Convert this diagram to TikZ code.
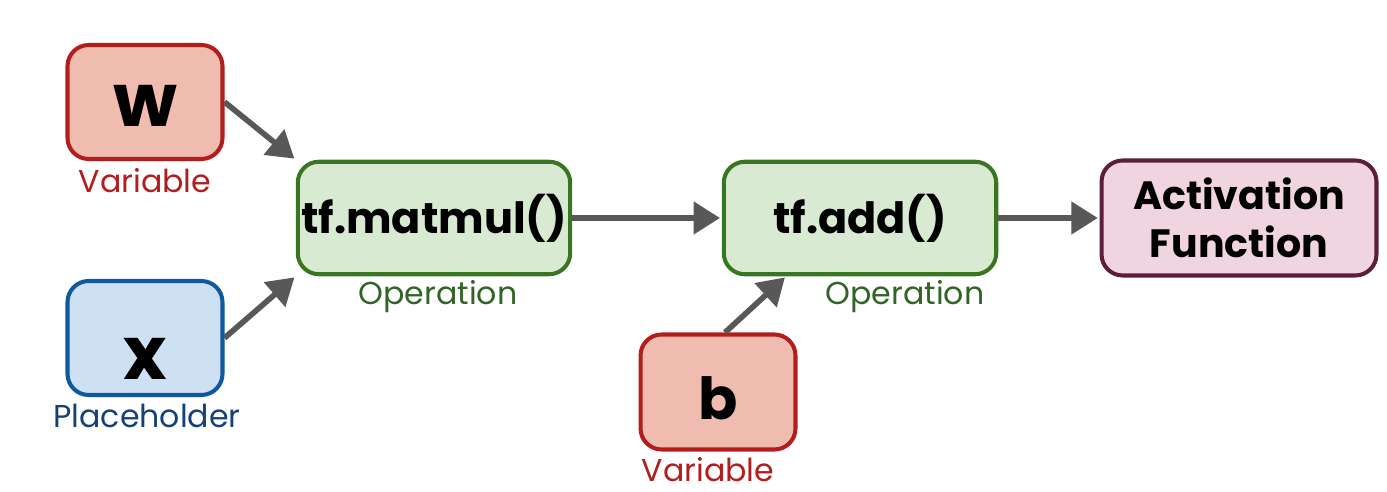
\documentclass[tikz,border=0pt]{standalone}
\usepackage{fontspec}
\setmainfont{Poppins}
\usetikzlibrary{arrows.meta,calc}
\definecolor{varfill}{RGB}{241,188,176}
\definecolor{vardraw}{RGB}{178,30,30}
\definecolor{phfill}{RGB}{206,225,243}
\definecolor{phdraw}{RGB}{18,88,160}
\definecolor{phtext}{RGB}{20,66,120}
\definecolor{opfill}{RGB}{217,234,211}
\definecolor{opdraw}{RGB}{56,118,34}
\definecolor{optext}{RGB}{50,100,40}
\definecolor{actfill}{RGB}{240,212,223}
\definecolor{actdraw}{RGB}{92,30,58}
\definecolor{arrcol}{RGB}{88,88,88}
\tikzset{
  box/.style={rounded corners=12pt, line width=2.3pt, font=\bfseries, align=center, inner sep=0pt},
  vbox/.style={box, fill=varfill, draw=vardraw, minimum width=3.1cm, minimum height=2.28cm, font=\bfseries\fontsize{42}{44}\selectfont},
  pbox/.style={box, fill=phfill, draw=phdraw, minimum width=3.1cm, minimum height=2.28cm, font=\bfseries\fontsize{42}{44}\selectfont},
  obox/.style={box, fill=opfill, draw=opdraw, minimum width=5.45cm, minimum height=2.25cm, font=\bfseries\fontsize{24.5}{28}\selectfont},
  abox/.style={box, fill=actfill, draw=actdraw, minimum width=5.5cm, minimum height=2.3cm, font=\bfseries\fontsize{22.5}{27}\selectfont},
  lab/.style={font=\fontsize{18}{21}\selectfont, inner sep=0pt},
  arr/.style={draw=arrcol, line width=3.2pt, -{Triangle[length=15pt,width=18pt]}, shorten >=1pt}
}
\begin{document}
\begin{tikzpicture}[x=0.02cm,y=-0.02cm]
\useasboundingbox (0,0) rectangle (1387,492);
\node[vbox, text height=27.8pt, text depth=0pt] (W) at (145,102) {w};
\node[lab, text=vardraw] (Wl) at (145,181) {Variable};
\node[pbox, text height=47pt, text depth=0pt] (X) at (145,338) {x};
\node[lab, text=phtext] (Xl) at (147,416) {Placeholder};
\node[obox] (mm) at (434,218) {tf.matmul()};
\node[lab, text=optext] (mml) at (438,297) {Operation};
\node[obox] (add) at (860,218) {tf.add()};
\node[lab, text=optext] (addl) at (905,297) {Operation};
\node[vbox, minimum height=2.3cm, font=\bfseries\fontsize{33}{36}\selectfont, text height=31.2pt, text depth=0pt] (b) at (718,392) {b};
\node[lab, text=vardraw] (bl) at (708,470) {Variable};
\node[abox] (act) at (1239,218) {Activation\\Function};
\draw[arr] (W.east) -- (mm.north west);
\draw[arr] (X.east) -- (mm.south west);
\draw[arr] (mm.east) -- (add.west);
\draw[arr] (add.east) -- (act.west);
\draw[arr] ([xshift=4]b.north) -- ([xshift=-42]add.south);
\end{tikzpicture}
\end{document}
